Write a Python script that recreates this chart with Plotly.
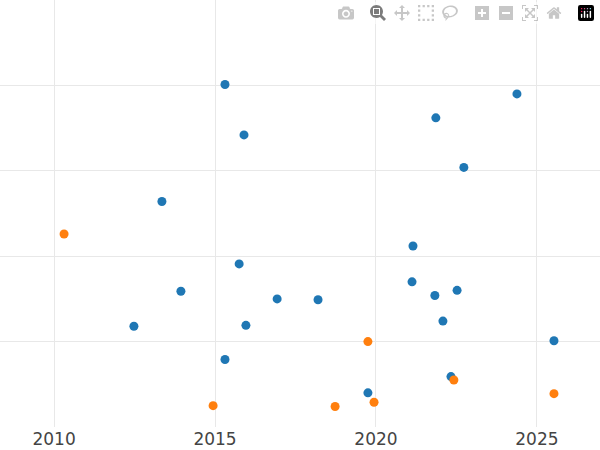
import plotly.graph_objects as go

blue_x = [2015.31, 2015.90, 2013.35, 2015.75, 2013.94, 2012.48, 2015.96, 2015.31, 2016.93, 2018.20,
          2021.15, 2021.12, 2021.86, 2022.73, 2024.38, 2021.83, 2022.52, 2022.08, 2025.53, 2022.33, 2019.75]
blue_y = [4.01, 3.42, 2.64, 1.91, 1.59, 1.18, 1.19, 0.79, 1.50, 1.49,
          2.12, 1.70, 3.62, 3.04, 3.90, 1.54, 1.60, 1.24, 1.01, 0.59, 0.40]
orange_x = [2010.31, 2014.94, 2018.73, 2019.75, 2019.94, 2022.42, 2025.53]
orange_y = [2.26, 0.25, 0.24, 1.00, 0.29, 0.55, 0.39]

fig = go.Figure()
fig.add_trace(go.Scatter(x=blue_x, y=blue_y, mode="markers",
                         marker=dict(color="#1f77b4", size=9)))
fig.add_trace(go.Scatter(x=orange_x, y=orange_y, mode="markers",
                         marker=dict(color="#ff7f0e", size=9)))
fig.update_layout(
    width=600, height=450, showlegend=False,
    plot_bgcolor="white", paper_bgcolor="white",
    margin=dict(l=0, r=0, t=0, b=23),
    font=dict(family="DejaVu Sans", size=17, color="#444"),
    xaxis=dict(range=[2008.32, 2026.96], tickvals=[2010, 2015, 2020, 2025],
               gridcolor="#e8e8e8", zeroline=False, showline=False),
    yaxis=dict(range=[0, 5], tickvals=[1, 2, 3, 4], showticklabels=False,
               gridcolor="#e8e8e8", zeroline=False, showline=False),
)
fig.write_html("out.html", post_script="document.body.style.margin='0';document.body.style.overflow='hidden';")
